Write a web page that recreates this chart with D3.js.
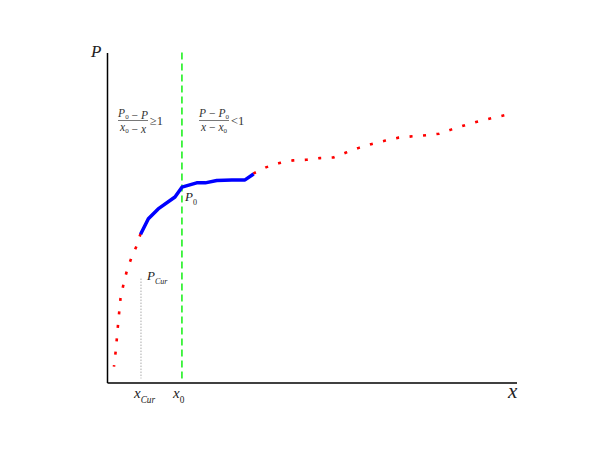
<!DOCTYPE html>
<html>
<head>
<meta charset="utf-8">
<script src="https://cdn.jsdelivr.net/npm/d3@7"></script>
<style>
  body { margin: 0; background: #fff; }
</style>
</head>
<body>
<script>
// curve before the current point (red, dotted)
var leftX = [1.7, 2.1, 2.4, 2.7, 3.0, 3.3, 4.0, 4.8, 5.9, 7.2, 8.2];
var leftP = [4.8, 9.2, 13.3, 17.6, 21.6, 25.5, 29.6, 33.6, 37.6, 41.3, 45.1];

// section around P0 (blue, solid)
var midX = [8.2, 10.1, 12.5, 16.6, 18.3, 21.9, 24.0, 26.8, 30.5, 33.7, 35.8];
var midP = [44.9, 49.6, 52.6, 56.2, 59.2, 60.5, 60.5, 61.2, 61.4, 61.4, 63.2];

// rest of the curve (red, dotted)
var rightX = [35.7, 38.8, 42.1, 45.4, 48.7, 52.0, 55.3, 58.4, 61.5, 64.7, 68.0,
              71.2, 74.6, 77.9, 81.1, 84.2, 87.5, 90.6, 93.9, 97.1, 98.0];
var rightP = [63.3, 65.2, 66.5, 67.3, 67.5, 68.0, 68.2, 69.7, 71.1, 72.3, 73.3,
              74.2, 74.6, 74.9, 75.4, 76.7, 78.0, 79.1, 80.1, 81.0, 81.2];

// marker positions
var xCur = 8.3, pCurTop = 31.5;
var x0 = 18.3;

var width = 600, height = 459;

var svg = d3.select("body").append("svg")
    .attr("width", width)
    .attr("height", height)
    .attr("font-family", "'Liberation Serif', 'Times New Roman', serif")
    .attr("fill", "#222");

var xScale = d3.scaleLinear().domain([0, 100]).range([107, 516.5]);
var yScale = d3.scaleLinear().domain([0, 100]).range([382.5, 52.5]);

// axes: domain lines only
svg.append("g")
    .attr("transform", "translate(0," + yScale(0) + ")")
    .call(d3.axisBottom(xScale).tickValues([]).tickSizeOuter(0))
    .select(".domain").attr("stroke", "#000").attr("stroke-width", 1.5);
svg.append("g")
    .attr("transform", "translate(" + xScale(0) + ",0)")
    .call(d3.axisLeft(yScale).tickValues([]).tickSizeOuter(0))
    .select(".domain").attr("stroke", "#000").attr("stroke-width", 1.5);

// vertical markers
svg.append("line")
    .attr("x1", xScale(x0)).attr("x2", xScale(x0))
    .attr("y1", yScale(100)).attr("y2", yScale(0))
    .attr("stroke", "#00ee00").attr("stroke-width", 1.4)
    .attr("stroke-dasharray", "7,4");
svg.append("line")
    .attr("x1", xScale(xCur)).attr("x2", xScale(xCur))
    .attr("y1", yScale(pCurTop)).attr("y2", yScale(0) - 4)
    .attr("stroke", "#aaa").attr("stroke-width", 1)
    .attr("stroke-dasharray", "1.5,1.5");

var line = d3.line()
    .x(function (d) { return xScale(d[0]); })
    .y(function (d) { return yScale(d[1]); });

function pairs(xs, ps) { return xs.map(function (v, i) { return [v, ps[i]]; }); }

svg.append("path")
    .datum(pairs(leftX, leftP).reverse())
    .attr("d", line)
    .attr("fill", "none").attr("stroke", "#ff0000")
    .attr("stroke-width", 2.6).attr("stroke-dasharray", "3,10.5");

svg.append("path")
    .datum(pairs(rightX, rightP))
    .attr("d", line)
    .attr("fill", "none").attr("stroke", "#ff0000")
    .attr("stroke-width", 2.6).attr("stroke-dasharray", "3,10.5");

svg.append("path")
    .datum(pairs(midX, midP))
    .attr("d", line)
    .attr("fill", "none").attr("stroke", "#0000ff")
    .attr("stroke-width", 3.5).attr("stroke-linejoin", "round");

// axis labels
svg.append("text").attr("x", 91).attr("y", 57)
    .style("font-size", "17px").style("font-style", "italic").text("P");
svg.append("text").attr("x", 508).attr("y", 398)
    .style("font-size", "21px").style("font-style", "italic").text("x");

// helper for symbol with subscript
function sub(x, y, main, s, size) {
    var t = svg.append("text").attr("x", x).attr("y", y)
        .style("font-size", size + "px");
    t.append("tspan").style("font-style", "italic").text(main);
    t.append("tspan").attr("dy", size * 0.3)
        .style("font-size", (size * 0.62) + "px")
        .style("font-style", s === "0" ? "normal" : "italic").text(s);
    return t;
}

sub(134, 398, "x", "Cur", 15);
sub(173, 398, "x", "0", 15);
sub(185, 201, "P", "0", 13);
sub(147, 280, "P", "Cur", 13);

// fractions
function fraction(cx, num, den, rel) {
    var g = svg.append("g");
    var n = g.append("text").attr("x", cx).attr("y", 117)
        .attr("text-anchor", "middle").style("font-size", "11.5px").attr("fill", "#333");
    num.forEach(function (p) {
        n.append("tspan").style("font-style", p[1] ? "italic" : "normal").text(p[0]);
        if (p[2]) {
            n.append("tspan").attr("dy", 2).style("font-size", "7px").text(p[2]);
            n.append("tspan").attr("dy", -2).text("");
        }
    });
    g.append("line")
        .attr("x1", cx - 15).attr("x2", cx + 15)
        .attr("y1", 120.5).attr("y2", 120.5)
        .attr("stroke", "#555").attr("stroke-width", 0.8);
    var d = g.append("text").attr("x", cx).attr("y", 131)
        .attr("text-anchor", "middle").style("font-size", "11.5px").attr("fill", "#333");
    den.forEach(function (p) {
        d.append("tspan").style("font-style", p[1] ? "italic" : "normal").text(p[0]);
        if (p[2]) {
            d.append("tspan").attr("dy", 2).style("font-size", "7px").text(p[2]);
            d.append("tspan").attr("dy", -2).text("");
        }
    });
    g.append("text").attr("x", cx + 17).attr("y", 124.5).attr("fill", "#333")
        .style("font-size", "12.5px").text(rel);
}

fraction(133, [["P", true, "0"], [" \u2212 ", false], ["P", true]],
              [["x", true, "0"], [" \u2212 ", false], ["x", true]], "\u22651");
fraction(214, [["P", true], [" \u2212 ", false], ["P", true, "0"]],
              [["x", true], [" \u2212 ", false], ["x", true, "0"]], "<1");
</script>
</body>
</html>
